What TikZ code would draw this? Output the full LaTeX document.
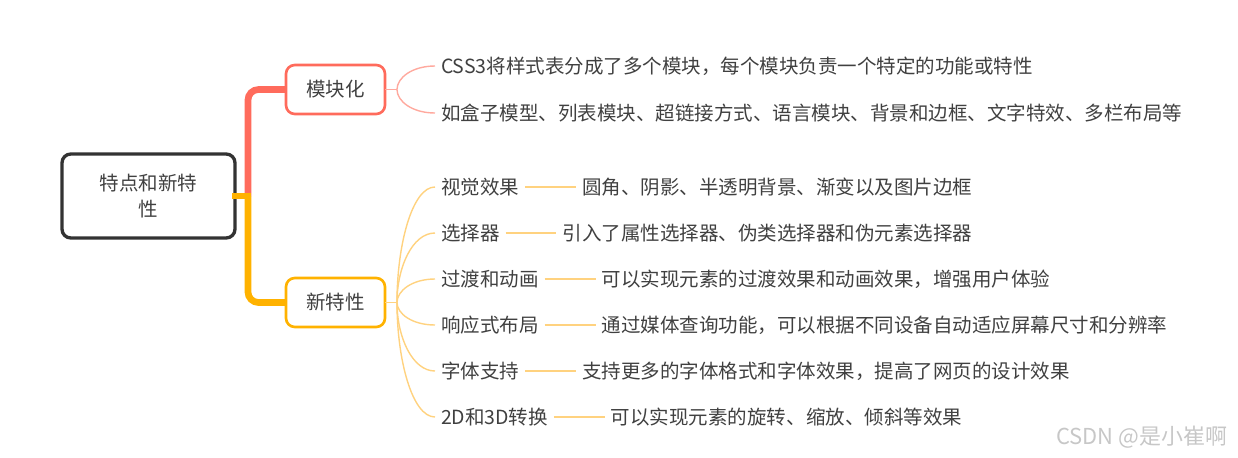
\documentclass[tikz,border=0pt]{standalone}
\usepackage{fontspec}
\setmainfont{Noto Sans CJK SC}
\usepackage{xcolor}
\usetikzlibrary{positioning,calc}
\definecolor{txt}{HTML}{404040}
\definecolor{rootline}{HTML}{333333}
\definecolor{modred}{HTML}{FF6B5C}
\definecolor{modthin}{HTML}{FFA99E}
\definecolor{featorg}{HTML}{FFB200}
\definecolor{featthin}{HTML}{FFD27F}

\begin{document}
\begin{tikzpicture}[x=0.02cm,y=-0.02cm,every node/.style={outer sep=0pt,text=txt,
font=\fontsize{11.1}{15.3}\selectfont}]
\tikzstyle{topic}=[draw,line width=1.5pt,rounded corners=5pt,align=center,
minimum width=1.98cm,minimum height=0.98cm,inner sep=0pt]
\tikzstyle{leaf}=[anchor=west,inner xsep=1.2mm,inner ysep=1pt]
\tikzstyle{fat}=[line width=3.8pt,rounded corners=6pt]
\tikzstyle{thin}=[line width=0.8pt]
\tikzstyle{twig}=[thin,to path={.. controls ($(\tikztostart)!0.5!(\tikztostart |- \tikztotarget)$)
and ($(\tikztotarget)!0.6!(\tikztostart |- \tikztotarget)$) .. (\tikztotarget)}]
\useasboundingbox (0,0) rectangle (1238,457);
%
\node (root) [topic,draw=rootline,line width=1.9pt,minimum width=3.46cm,
minimum height=1.68cm] at (148.5,196) {特点和新特\\性};
\node (mod) [topic,draw=modred] at (335.5,89.5) {模块化};
\node (feat) [topic,draw=featorg] at (335.5,302.5) {新特性};
\coordinate (hub) at ($(root.east)+(13,0)$);
\draw [fat,modred] (hub) |- (mod.west);
\draw [fat,featorg] (hub) |- (feat.west);
\draw [fat,featorg,line cap=rect] (root.east) -- (hub);
%
\coordinate (modfork) at ($(mod.east)+(12,0)$);
\node (css) [leaf] at (435,66) {CSS3将样式表分成了多个模块，每个模块负责一个特定的功能或特性};
\node (box) [leaf] at (435,113) {如盒子模型、列表模块、超链接方式、语言模块、背景和边框、文字特效、多栏布局等};
\draw [thin,modthin] (mod.east) -- (modfork);
\draw [twig,modthin] (modfork) to (css.west);
\draw [twig,modthin] (modfork) to (box.west);
%
\coordinate (featfork) at ($(feat.east)+(12,0)$);
\node (vis) [leaf] at (435,187) {视觉效果};
\node (visd) [leaf,right=1.02cm of vis] {圆角、阴影、半透明背景、渐变以及图片边框};
\node (sel) [leaf] at (435,233) {选择器};
\node (seld) [leaf,right=1.02cm of sel] {引入了属性选择器、伪类选择器和伪元素选择器};
\node (anim) [leaf] at (435,279) {过渡和动画};
\node (animd) [leaf,right=1.02cm of anim] {可以实现元素的过渡效果和动画效果，增强用户体验};
\node (resp) [leaf] at (435,325) {响应式布局};
\node (respd) [leaf,right=1.02cm of resp] {通过媒体查询功能，可以根据不同设备自动适应屏幕尺寸和分辨率};
\node (font) [leaf] at (435,371) {字体支持};
\node (fontd) [leaf,right=1.02cm of font] {支持更多的字体格式和字体效果，提高了网页的设计效果};
\node (trans) [leaf] at (435,417) {2D和3D转换};
\node (transd) [leaf,right=1.02cm of trans] {可以实现元素的旋转、缩放、倾斜等效果};
\draw [thin,featthin] (feat.east) -- (featfork);
\draw [twig,featthin] (featfork) to (vis.west);
\draw [twig,featthin] (featfork) to (sel.west);
\draw [twig,featthin] (featfork) to (anim.west);
\draw [twig,featthin] (featfork) to (resp.west);
\draw [twig,featthin] (featfork) to (font.west);
\draw [twig,featthin] (featfork) to (trans.west);
\draw [thin,featthin] (vis.east) -- (visd.west);
\draw [thin,featthin] (sel.east) -- (seld.west);
\draw [thin,featthin] (anim.east) -- (animd.west);
\draw [thin,featthin] (resp.east) -- (respd.west);
\draw [thin,featthin] (font.east) -- (fontd.west);
\draw [thin,featthin] (trans.east) -- (transd.west);
%
\node (wm) [anchor=east,text=black!22,font=\fontsize{12.5}{14}\selectfont] at (1233,437) {CSDN @是小崔啊};
\end{tikzpicture}
\end{document}
